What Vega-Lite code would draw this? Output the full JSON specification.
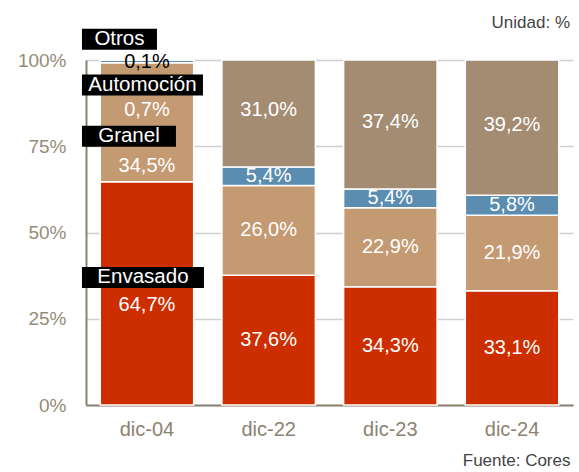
{
  "$schema": "https://vega.github.io/schema/vega-lite/v6.json",
  "width": 487,
  "height": 345,
  "autosize": {"type": "none"},
  "padding": {"left": 86, "top": 60, "right": 6, "bottom": 67},
  "background": "white",
  "config": {"font": "Liberation Sans", "view": {"stroke": null}},
  "title": {"text": "Unidad: %", "anchor": "end", "fontSize": 17, "fontWeight": "normal", "color": "#444444", "offset": -3, "dx": -3},
  "data": {
    "values": [
      {"cat": "dic-04", "serie": "Envasado", "order": 1, "value": 64.7},
      {"cat": "dic-04", "serie": "Granel", "order": 2, "value": 34.5},
      {"cat": "dic-04", "serie": "Automoción", "order": 3, "value": 0.7},
      {"cat": "dic-04", "serie": "Otros", "order": 4, "value": 0.1},
      {"cat": "dic-22", "serie": "Envasado", "order": 1, "value": 37.6},
      {"cat": "dic-22", "serie": "Granel", "order": 2, "value": 26.0},
      {"cat": "dic-22", "serie": "Automoción", "order": 3, "value": 5.4},
      {"cat": "dic-22", "serie": "Otros", "order": 4, "value": 31.0},
      {"cat": "dic-23", "serie": "Envasado", "order": 1, "value": 34.3},
      {"cat": "dic-23", "serie": "Granel", "order": 2, "value": 22.9},
      {"cat": "dic-23", "serie": "Automoción", "order": 3, "value": 5.4},
      {"cat": "dic-23", "serie": "Otros", "order": 4, "value": 37.4},
      {"cat": "dic-24", "serie": "Envasado", "order": 1, "value": 33.1},
      {"cat": "dic-24", "serie": "Granel", "order": 2, "value": 21.9},
      {"cat": "dic-24", "serie": "Automoción", "order": 3, "value": 5.8},
      {"cat": "dic-24", "serie": "Otros", "order": 4, "value": 39.2}
    ]
  },
  "transform": [
    {"stack": "value", "groupby": ["cat"], "sort": [{"field": "order", "order": "ascending"}], "as": ["v0", "v1"]},
    {"calculate": "(datum.v0 + datum.v1) / 2", "as": "mid"},
    {"calculate": "replace(format(datum.value, '.1f'), '.', ',') + '%'", "as": "lbl"}
  ],
  "encoding": {
    "x": {
      "field": "cat", "type": "nominal", "sort": null,
      "scale": {"paddingInner": 0.232, "paddingOuter": 0.117},
      "axis": {
        "title": "Fuente: Cores", "titleX": 484, "titleAlign": "right", "titleAnchor": null,
        "titleFontSize": 17, "titleFontWeight": "normal", "titleColor": "#444444", "titlePadding": 13,
        "labelAngle": 0, "labelFontSize": 20, "labelColor": "#8C8270", "labelPadding": 14,
        "ticks": false, "tickSize": 0, "domainColor": "#8C8270", "domainWidth": 2
      }
    }
  },
  "layer": [
    {
      "mark": {"type": "bar", "stroke": "white", "strokeWidth": 1.5},
      "encoding": {
        "y": {
          "field": "v0", "type": "quantitative",
          "scale": {"domain": [0, 100], "nice": false},
          "axis": {
            "title": null, "values": [0, 25, 50, 75, 100], "labelExpr": "datum.value + '%'",
            "grid": true, "gridColor": "#D0D0D0", "gridWidth": 1.5,
            "domainColor": "#8C8270", "domainWidth": 2, "ticks": false, "tickSize": 0,
            "labelPadding": 20, "labelFontSize": 19, "labelColor": "#958C79"
          }
        },
        "y2": {"field": "v1"},
        "color": {
          "field": "serie", "type": "nominal",
          "scale": {"domain": ["Envasado", "Granel", "Automoción", "Otros"], "range": ["#CC2E00", "#C49A72", "#5B8DB0", "#A38C72"]},
          "legend": null
        }
      }
    },
    {
      "transform": [{"filter": "datum.cat != 'dic-04' && datum.serie != 'Otros'"}],
      "mark": {"type": "text", "color": "white", "fontSize": 20, "baseline": "middle"},
      "encoding": {"y": {"field": "mid", "type": "quantitative"}, "text": {"field": "lbl"}}
    },
    {
      "transform": [{"filter": "datum.cat != 'dic-04' && datum.serie == 'Otros'"}],
      "mark": {"type": "text", "color": "white", "fontSize": 20, "baseline": "middle", "dy": -3},
      "encoding": {"y": {"field": "mid", "type": "quantitative"}, "text": {"field": "lbl"}}
    },
    {
      "transform": [{"filter": "datum.cat == 'dic-04' && datum.serie == 'Envasado'"}],
      "layer": [
        {"mark": {"type": "bar", "color": "black", "width": 122, "xOffset": -4, "yOffset": -26.5, "y2Offset": -5.5},
         "encoding": {"y": {"field": "mid", "type": "quantitative"}, "y2": {"field": "mid"}}},
        {"mark": {"type": "text", "color": "white", "fontSize": 20.5, "baseline": "middle", "dx": -4, "dy": -16},
         "encoding": {"y": {"field": "mid", "type": "quantitative"}, "text": {"field": "serie"}}},
        {"mark": {"type": "text", "color": "white", "fontSize": 20, "baseline": "middle", "dy": 12},
         "encoding": {"y": {"field": "mid", "type": "quantitative"}, "text": {"field": "lbl"}}}
      ]
    },
    {
      "transform": [{"filter": "datum.cat == 'dic-04' && datum.serie == 'Granel'"}],
      "layer": [
        {"mark": {"type": "bar", "color": "black", "width": 94, "xOffset": -18, "yOffset": 3.5, "y2Offset": 24.5},
         "encoding": {"y": {"field": "mid", "type": "quantitative"}, "y2": {"field": "mid"}}},
        {"mark": {"type": "text", "color": "white", "fontSize": 20.5, "baseline": "middle", "dx": -18, "dy": 14},
         "encoding": {"y": {"field": "mid", "type": "quantitative"}, "text": {"field": "serie"}}},
        {"mark": {"type": "text", "color": "white", "fontSize": 20, "baseline": "middle", "dy": 44},
         "encoding": {"y": {"field": "mid", "type": "quantitative"}, "text": {"field": "lbl"}}}
      ]
    },
    {
      "transform": [{"filter": "datum.cat == 'dic-04' && datum.serie == 'Automoción'"}],
      "layer": [
        {"mark": {"type": "bar", "color": "black", "width": 121, "xOffset": -4.5, "yOffset": 13, "y2Offset": 34},
         "encoding": {"y": {"field": "mid", "type": "quantitative"}, "y2": {"field": "mid"}}},
        {"mark": {"type": "text", "color": "white", "fontSize": 20.5, "baseline": "middle", "dx": -4.5, "dy": 23.5},
         "encoding": {"y": {"field": "mid", "type": "quantitative"}, "text": {"field": "serie"}}},
        {"mark": {"type": "text", "color": "white", "fontSize": 20, "baseline": "middle", "dy": 48},
         "encoding": {"y": {"field": "mid", "type": "quantitative"}, "text": {"field": "lbl"}}}
      ]
    },
    {
      "transform": [{"filter": "datum.cat == 'dic-04' && datum.serie == 'Otros'"}],
      "layer": [
        {"mark": {"type": "bar", "color": "black", "width": 75, "xOffset": -27.5, "yOffset": -31.5, "y2Offset": -10.5},
         "encoding": {"y": {"field": "mid", "type": "quantitative"}, "y2": {"field": "mid"}}},
        {"mark": {"type": "text", "color": "white", "fontSize": 20.5, "baseline": "middle", "dx": -27.5, "dy": -21},
         "encoding": {"y": {"field": "mid", "type": "quantitative"}, "text": {"field": "serie"}}},
        {"mark": {"type": "text", "color": "black", "fontSize": 20, "baseline": "middle", "dy": 2},
         "encoding": {"y": {"field": "mid", "type": "quantitative"}, "text": {"field": "lbl"}}}
      ]
    }
  ]
}
